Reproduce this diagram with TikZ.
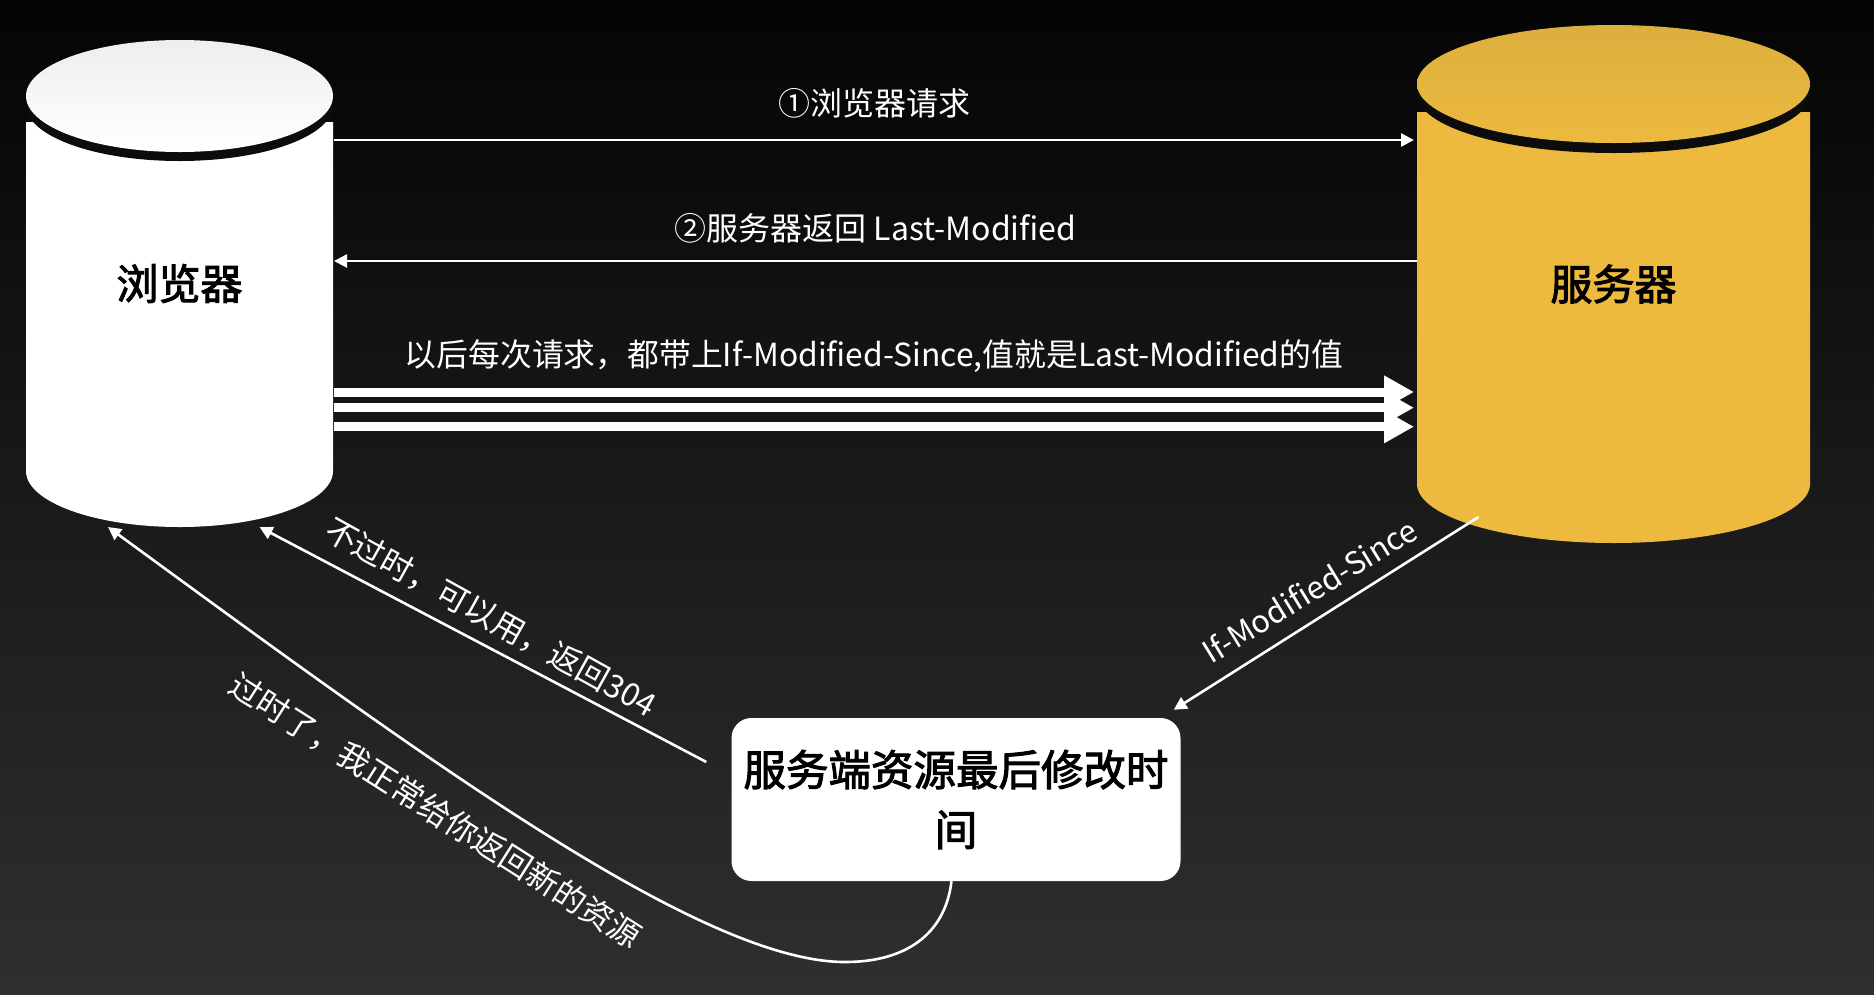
\documentclass[tikz,border=0pt]{standalone}
\usepackage{fontspec}
\setmainfont{Noto Sans CJK SC}
\newfontfamily\medfont[FakeBold=2.4]{Noto Sans CJK SC}
\usetikzlibrary{arrows.meta,positioning}
\definecolor{bgtop}{HTML}{040404}
\definecolor{bgbottom}{HTML}{2F2F2F}
\definecolor{bandcolor}{HTML}{0C0C0C}
\definecolor{servercolor}{HTML}{EDBA3F}
\definecolor{servertop}{HTML}{DCAE3D}
\definecolor{browsertop}{HTML}{EEEEEE}

\begin{document}
\begin{tikzpicture}[
    x=1pt, y=-1pt,
    cyl/.style={inner sep=0pt, outer sep=0pt, text=black, font=\medfont\fontsize{42}{48}\selectfont},
    band/.style={fill=bandcolor},
    modbox/.style={draw=none, fill=white, rounded corners=20pt, minimum width=449pt, minimum height=163pt, align=center, inner sep=0pt, text=black, font=\medfont\fontsize{42.5}{60}\selectfont},
    flow/.style={-{Triangle[length=13pt,width=13pt]}, line width=2.6pt, white},
    bigflow/.style={-{Triangle[length=30pt,width=31pt]}, line width=9pt, white},
    flowlabel/.style={text=white, font=\fontsize{32}{36}\selectfont}
]
    \useasboundingbox (0,0) rectangle (1874,994);
    \shade[top color=bgtop, bottom color=bgbottom] (0,0) rectangle (1874,994);

    % Cylinders
    \fill[white] (26,122) -- (26,471) arc [start angle=180, end angle=360, x radius=153.5pt, y radius=56pt] -- (333,122) -- cycle;
    \fill[band] (179.5,105) ellipse [x radius=153.5pt, y radius=56pt];
    \fill[top color=browsertop, bottom color=white] (179.5,96) ellipse [x radius=153.5pt, y radius=56pt];
    \node[cyl, minimum width=307pt, minimum height=487pt] (browser) at (179.5,283.5) {浏览器};

    \fill[servercolor] (1417,112) -- (1417,484) arc [start angle=180, end angle=360, x radius=196.5pt, y radius=59pt] -- (1810,112) -- cycle;
    \fill[band] (1613.5,94) ellipse [x radius=196.5pt, y radius=59pt];
    \fill[top color=servertop, bottom color=servercolor] (1613.5,84) ellipse [x radius=196.5pt, y radius=59pt];
    \node[cyl, minimum width=393pt, minimum height=518pt] (server) at (1613.5,284) {服务器};

    % Box
    \node[modbox] (modtime) at (956,799.5) {服务端资源最后修改时\\间};

    % Flows
    \draw[flow] ([xshift=1pt,yshift=143.5pt]browser.east) -- ([xshift=-3pt,yshift=144pt]server.west)
        node[midway, yshift=37pt, flowlabel] (req) {①浏览器请求};
    \draw[flow] ([yshift=23pt]server.west) -- ([xshift=1pt,yshift=22.5pt]browser.east)
        node[midway, yshift=33pt, flowlabel] (resp) {②服务器返回 Last-Modified};
    \draw[bigflow] ([xshift=1pt,yshift=-108.5pt]browser.east) -- ([xshift=-3pt,yshift=-108pt]server.west)
        node[midway, yshift=36pt, flowlabel, font=\fontsize{31.8}{36}\selectfont] (every) {以后每次请求，都带上If-Modified-Since,值就是Last-Modified的值};
    \draw[bigflow] ([xshift=1pt,yshift=-124.2pt]browser.east) -- ([xshift=-3pt,yshift=-123.7pt]server.west);
    \draw[bigflow] ([xshift=1pt,yshift=-143.2pt]browser.east) -- ([xshift=-3pt,yshift=-142.7pt]server.west);

    \draw[flow] ([xshift=-135pt,yshift=26pt]server.south) -- ([xshift=-7pt,yshift=8pt]modtime.north east)
        node[midway, xshift=-17pt, yshift=23pt, rotate=31.5, flowlabel, font=\fontsize{31}{36}\selectfont] (since) {If-Modified-Since};
    \draw[flow] ([xshift=-25pt,yshift=37.5pt]modtime.west) -- ([xshift=80pt]browser.south)
        node[midway, xshift=8pt, yshift=27pt, rotate=-29, flowlabel] (fresh) {不过时，可以用，返回304};
    \draw[flow] ([xshift=-4.5pt]modtime.south) .. controls (945,935) and (905,962) .. (845,962)
        .. controls (700,962) and (420,755) .. ([xshift=-71.5pt]browser.south)
        node[pos=.65, xshift=16pt, yshift=-60pt, rotate=-32.5, flowlabel] (stale) {过时了，我正常给你返回新的资源};
\end{tikzpicture}
\end{document}
